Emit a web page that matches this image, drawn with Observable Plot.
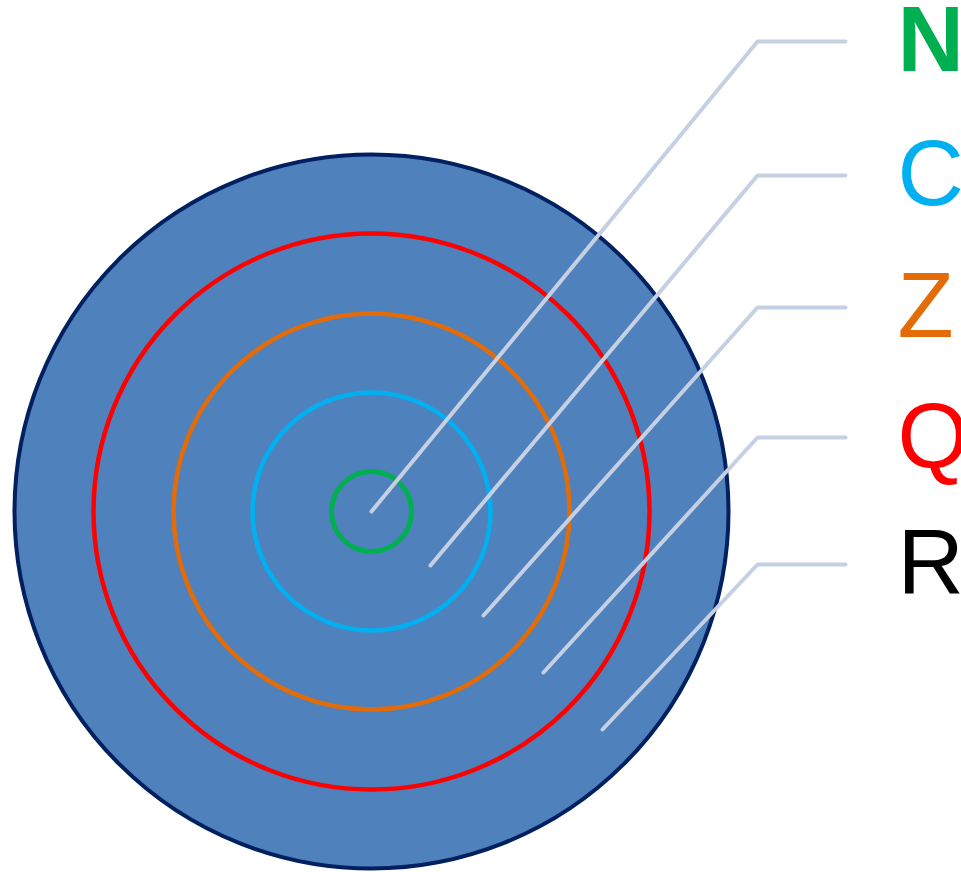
<!DOCTYPE html>
<html><head><meta charset="utf-8">
<script src="https://cdn.jsdelivr.net/npm/d3@7"></script>
<script src="https://cdn.jsdelivr.net/npm/@observablehq/plot@0.6"></script>
<style>body{margin:0;background:#fff}#c{width:961px;height:872px;overflow:hidden}</style>
</head><body><div id="c"></div>
<script>
// Concentric shells (radius in px units of the diagram)
const shells = ["R", "Q", "Z", "C", "N"];
const shellRadius = [357, 278, 198, 119, 40];
const shellStroke = ["#002060", "#ff0000", "#e36c09", "#00b0f0", "#00b050"];
const shellWidth = [4, 4.5, 4.5, 4.5, 5];
const center = [371, 511];
// Label and leader positions
const labels = ["N", "C", "Z", "Q", "R"];
const labelColor = ["#00b050", "#00b0f0", "#e36c09", "#ff0000", "#000000"];
const labelY = [41, 175, 307, 437, 564];
const leaderStartX = [371, 430, 483, 543, 602];
const leaderStartY = [511, 565, 615, 672, 729];
const elbowX = 757, leaderEndX = 845, labelX = 897;

const circles = shells.map((s, i) => ({s, r: shellRadius[i], stroke: shellStroke[i], w: shellWidth[i], fill: i === 0 ? "#4f81bd" : "none"}));
const leaders = labels.flatMap((l, i) => [
  {l, x: leaderStartX[i], y: leaderStartY[i]},
  {l, x: elbowX, y: labelY[i]},
  {l, x: leaderEndX, y: labelY[i]}
]);
const texts = labels.map((l, i) => ({l, x: labelX, y: labelY[i], c: labelColor[i], b: l === "N"}));

const chart = Plot.plot({
  width: 961, height: 872, margin: 0,
  x: {domain: [0, 961], axis: null},
  y: {domain: [872, 0], axis: null},
  r: {type: "identity"},
  style: {fontFamily: "'Liberation Sans', Arial, sans-serif", background: "#fff"},
  marks: [
    Plot.dot(circles, {x: () => center[0], y: () => center[1], r: "r", fill: d => d.fill, stroke: d => d.stroke, strokeWidth: d => d.w}),
    Plot.line(leaders, {x: "x", y: "y", z: "l", stroke: "#c5d0e3", strokeWidth: 4, strokeLinejoin: "miter", curve: "linear"}),
    Plot.text(texts.filter(d => !d.b), {x: "x", y: "y", text: "l", fill: d => d.c, fontSize: 92, textAnchor: "start", dy: 0}),
    Plot.text(texts.filter(d => d.b), {x: "x", y: "y", text: "l", fill: d => d.c, fontSize: 92, fontWeight: "bold", textAnchor: "start", dy: 0})
  ]
});
document.getElementById("c").appendChild(chart);
</script></body></html>
